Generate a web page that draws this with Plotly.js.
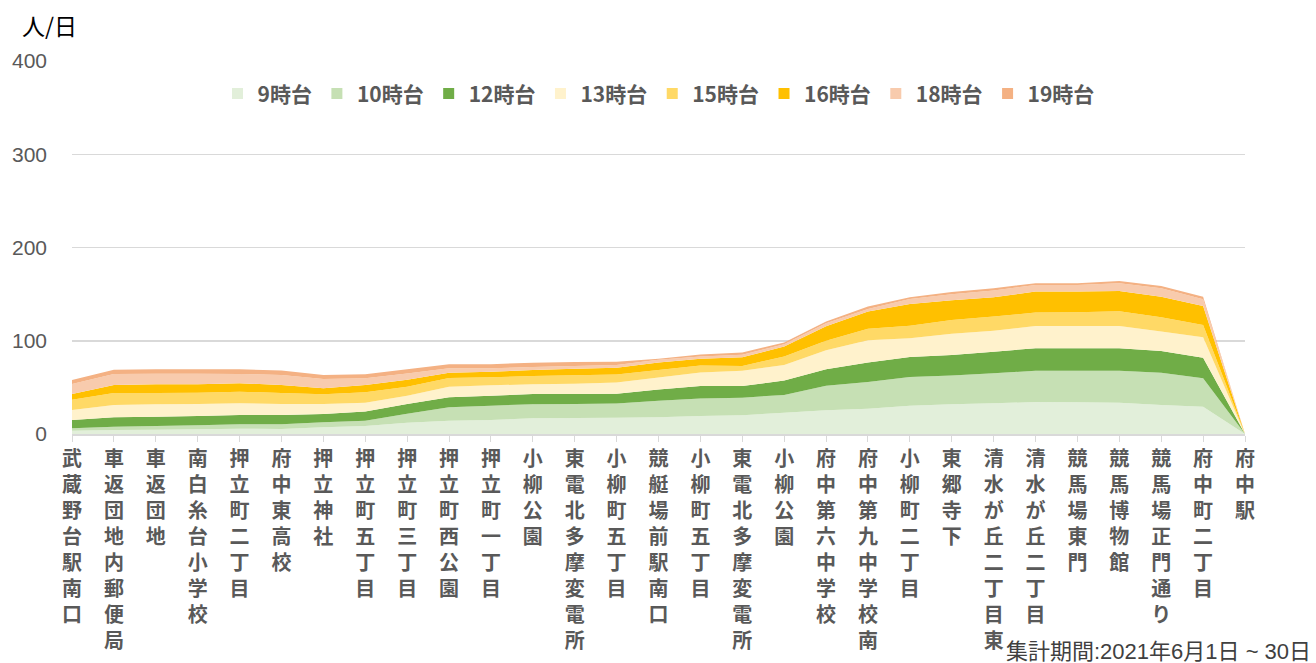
<!DOCTYPE html>
<html>
<head>
<meta charset="utf-8">
<script src="https://cdn.plot.ly/plotly-3.0.1.min.js"></script>
<style>html,body{margin:0;padding:0;background:#fff;}#chart{width:1316px;height:663px;}</style>
</head>
<body>
<div id="chart"></div>
<script>
const stops = ["武蔵野台駅南口","車返団地内郵便局","車返団地","南白糸台小学校","押立町二丁目","府中東高校","押立神社","押立町五丁目","押立町三丁目","押立町西公園","押立町一丁目","小柳公園","東電北多摩変電所","小柳町五丁目","競艇場前駅南口","小柳町五丁目","東電北多摩変電所","小柳公園","府中第六中学校","府中第九中学校南","小柳町二丁目","東郷寺下","清水が丘二丁目東","清水が丘二丁目","競馬場東門","競馬博物館","競馬場正門通り","府中町二丁目","府中駅"];

const seriesNames = ["9時台","10時台","12時台","13時台","15時台","16時台","18時台","19時台"];
const seriesColors = ["#E2EFDA","#C6E0B4","#70AD47","#FFF2CC","#FFD966","#FFC000","#F8CBAD","#F4B183"];

const h09 = [3.6,4.3,4.6,5.0,5.7,5.4,7.2,8.6,12.1,14.3,15.0,16.8,17.2,17.5,17.9,19.3,20.0,22.9,25.5,27.2,30.2,32.0,32.9,34.3,34.0,33.6,31.1,29.3,0];
const h10 = [2.5,3.6,4.0,4.3,4.7,5.0,5.3,5.7,9.7,14.3,15.4,15.0,15.0,15.1,17.7,18.7,19.0,19.0,26.2,28.6,30.8,30.7,32.2,33.6,33.9,34.3,34.7,30.5,0];
const h12 = [8.9,10.0,10.0,10.0,10.0,10.0,9.0,9.7,10.4,10.8,10.7,11.1,10.7,10.6,12.2,13.5,12.6,15.4,17.8,21.0,21.5,22.1,23.2,24.0,24.0,24.0,23.3,22.1,0];
const h13 = [10.8,13.2,13.2,12.9,12.5,11.8,10.7,9.6,8.9,11.4,11.1,10.4,11.1,12.1,12.9,14.5,16.1,16.8,20.3,23.8,20.1,22.8,22.5,24.0,24.0,24.0,20.7,21.9,0];
const h15 = [11.0,12.9,12.2,12.1,12.5,11.8,10.4,11.1,9.7,9.2,8.6,8.9,9.0,8.6,8.0,7.5,5.3,9.0,10.2,12.4,13.4,14.7,15.1,14.3,14.6,15.8,15.4,13.2,0];
const h16 = [6.1,8.6,9.3,9.0,9.0,8.6,6.4,7.9,7.5,5.8,6.0,6.5,7.1,7.1,8.1,7.2,9.3,10.7,15.6,18.4,23.5,21.1,20.8,22.5,22.2,21.7,22.1,20.3,0];
const h18 = [10.7,11.8,11.4,11.4,10.0,10.7,10.0,7.1,6.7,4.7,3.7,3.2,2.9,3.0,2.7,2.3,2.7,2.4,3.3,2.6,5.3,6.5,7.1,7.2,7.2,8.3,9.0,7.2,0];
const h19 = [4.3,4.6,4.7,4.7,5.0,4.7,4.3,4.3,4.4,4.3,4.3,4.6,4.3,3.6,1.2,2.3,2.4,1.9,1.7,2.8,1.8,2.3,2.5,1.8,1.8,2.5,2.5,2.8,0];

const yTicks = [0,100,200,300,400];
const yUnit = "人/日";
const period = "集計期間:2021年6月1日 ~ 30日";

const allSeries = [h09,h10,h12,h13,h15,h16,h18,h19];
const xIdx = stops.map((_, i) => i);
const vertical = s => Array.from(s).join("<br>");

const areaTraces = allSeries.map((vals, k) => ({
  type: "scatter",
  x: xIdx,
  y: vals,
  name: seriesNames[k],
  legendgroup: seriesNames[k],
  stackgroup: "one",
  mode: "none",
  fillcolor: seriesColors[k],
  line: {width: 0},
  showlegend: false,
  hoverinfo: "skip"
}));

const legendTraces = seriesNames.map((nm, k) => ({
  type: "scatter",
  x: [null],
  y: [null],
  name: nm,
  legendgroup: nm,
  mode: "markers",
  marker: {symbol: "square", size: 11, color: seriesColors[k]},
  showlegend: true,
  hoverinfo: "skip"
}));

const layout = {
  width: 1316,
  height: 663,
  margin: {l: 72, r: 71, t: 61, b: 229},
  paper_bgcolor: "#fff",
  plot_bgcolor: "#fff",
  font: {family: "'Noto Sans CJK JP', 'Liberation Sans', sans-serif", color: "#595959"},
  showlegend: true,
  legend: {
    orientation: "h",
    x: 0.5, xanchor: "center",
    y: 0.912, yanchor: "middle",
    traceorder: "normal",
    font: {size: 21, color: "#595959", weight: "bold", family: "'Noto Sans CJK JP', sans-serif"},
    itemwidth: 30,
    bgcolor: "rgba(0,0,0,0)"
  },
  xaxis: {
    type: "linear",
    range: [0, 28],
    tickmode: "array",
    tickvals: xIdx,
    ticktext: stops.map(vertical),
    tickangle: 0,
    ticks: "outside",
    ticklen: 6,
    tickcolor: "#d9d9d9",
    tickwidth: 1,
    showgrid: false,
    zeroline: false,
    showline: true,
    linecolor: "#d9d9d9",
    linewidth: 1.5,
    tickfont: {size: 20, color: "#595959", weight: "bold", family: "'Noto Sans CJK JP', sans-serif"},
    fixedrange: true
  },
  yaxis: {
    range: [0, 400],
    tickmode: "array",
    tickvals: yTicks,
    ticktext: yTicks.map(String),
    showgrid: true,
    gridcolor: "#d9d9d9",
    gridwidth: 1.5,
    zeroline: false,
    showline: false,
    ticks: "",
    ticklabelstandoff: 24,
    tickfont: {size: 21, color: "#595959", family: "'Liberation Sans', Arial, sans-serif"},
    fixedrange: true
  },
  annotations: [
    {text: yUnit, xref: "paper", yref: "paper", x: -52/1173, xanchor: "left", y: 1 + 36/373, yanchor: "middle", showarrow: false, font: {size: 23, color: "#000", family: "'Noto Sans CJK JP', sans-serif"}},
    {text: period, xref: "paper", yref: "paper", x: (1313-72)/1173, xanchor: "right", y: -(651-434)/373, yanchor: "middle", showarrow: false, font: {size: 22, color: "#404040", family: "'Liberation Sans', 'Noto Sans CJK JP', sans-serif"}, bgcolor: "rgba(0,0,0,0)"}
  ]
};

Plotly.newPlot("chart", areaTraces.concat(legendTraces), layout, {displayModeBar: false, staticPlot: true});
</script>
</body>
</html>
